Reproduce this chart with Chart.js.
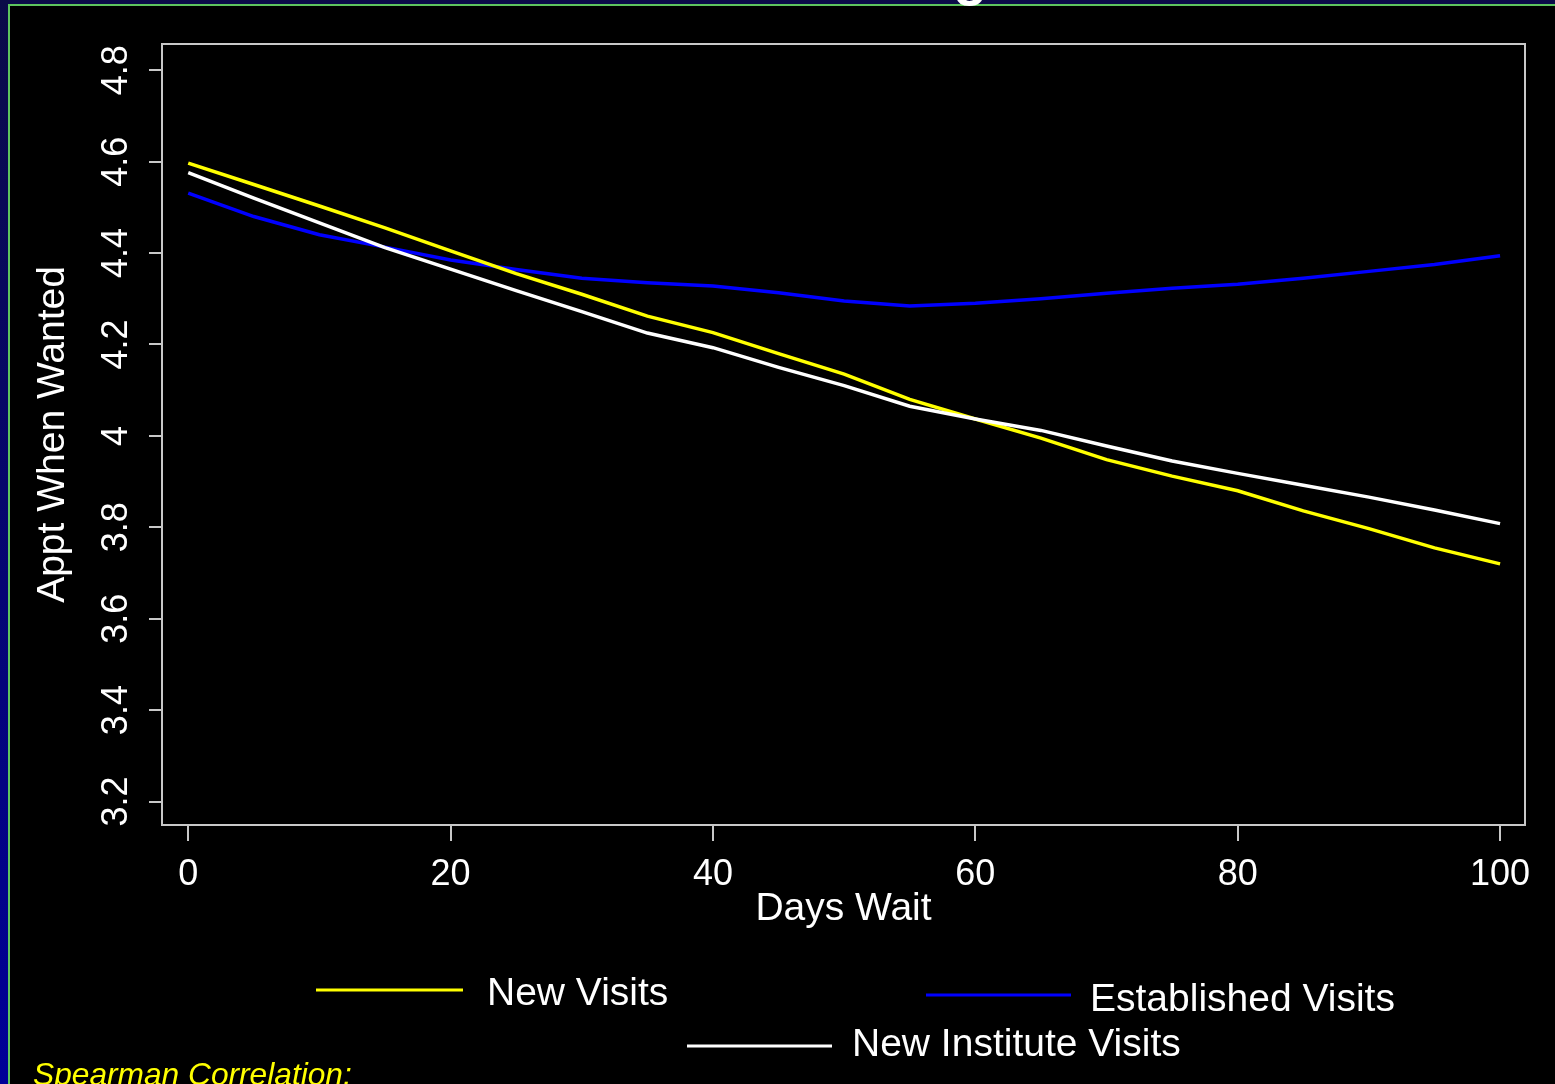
<!DOCTYPE html>
<html>
<head>
<meta charset="utf-8">
<title>Appt When Wanted vs Days Wait</title>
<script src="https://cdn.jsdelivr.net/npm/chart.js@4/dist/chart.umd.min.js"></script>
<style>
  html, body { margin: 0; padding: 0; }
  body {
    width: 1555px; height: 1084px; overflow: hidden; position: relative;
    background: linear-gradient(#0b0b48, #000098);
  }
  #panel {
    position: absolute; left: 8px; top: 4px; right: 0; bottom: 0;
    background: #000;
    border-top: 2px solid #5ec45e;
    border-left: 2px solid #5ec45e;
  }
  #chart { position: absolute; left: 0; top: 0; }
</style>
</head>
<body>
<div id="panel"></div>
<canvas id="chart" width="1555" height="1084"></canvas>
<script>
// Smoothed satisfaction scores by days of wait
const daysWait = [0, 5, 10, 15, 20, 25, 30, 35, 40, 45, 50, 55, 60, 65, 70, 75, 80, 85, 90, 95, 100];
const newVisits = [4.597, 4.55, 4.503, 4.455, 4.405, 4.355, 4.31, 4.262, 4.226, 4.18, 4.135, 4.08, 4.037, 3.995, 3.948, 3.912, 3.88, 3.836, 3.797, 3.755, 3.72];
const establishedVisits = [4.531, 4.48, 4.44, 4.413, 4.385, 4.364, 4.345, 4.335, 4.328, 4.313, 4.295, 4.284, 4.29, 4.3, 4.312, 4.323, 4.332, 4.345, 4.36, 4.375, 4.394];
const newInstituteVisits = [4.576, 4.52, 4.466, 4.412, 4.365, 4.318, 4.272, 4.225, 4.193, 4.15, 4.11, 4.065, 4.037, 4.012, 3.978, 3.945, 3.918, 3.892, 3.866, 3.838, 3.808];

const seriesNames = ['New Visits', 'Established Visits', 'New Institute Visits'];
const xTickValues = [0, 20, 40, 60, 80, 100];
const yTickValues = [3.2, 3.4, 3.6, 3.8, 4.0, 4.2, 4.4, 4.6, 4.8];
const yTickLabels = ['3.2', '3.4', '3.6', '3.8', '4', '4.2', '4.4', '4.6', '4.8'];
const xTitle = 'Days Wait';
const yTitle = 'Appt When Wanted';
const noteText = 'Spearman Correlation:';

const FONT = "'Liberation Sans', Arial, Helvetica, sans-serif";
const AXIS_COLOR = '#c8c8c8';
const TEXT_COLOR = '#ffffff';

const toPoints = ys => daysWait.map((d, i) => ({ x: d, y: ys[i] }));

// Legend layout: three entries placed around the lower band
const legendSlots = [
  { x0: 316, x1: 463, y: 990, tx: 487, ty: 994 },
  { x0: 926, x1: 1071, y: 995, tx: 1090, ty: 1000 },
  { x0: 687, x1: 832, y: 1046, tx: 852, ty: 1045 }
];

const extras = {
  id: 'plotExtras',
  afterDraw(chart) {
    const ctx = chart.ctx;
    const a = chart.chartArea;
    ctx.save();
    // plot box
    ctx.strokeStyle = AXIS_COLOR;
    ctx.lineWidth = 2;
    ctx.strokeRect(a.left, a.top, a.right - a.left, a.bottom - a.top);

    // legend
    chart.data.datasets.forEach((ds, i) => {
      const s = legendSlots[i];
      ctx.strokeStyle = ds.borderColor;
      ctx.lineWidth = 3;
      ctx.beginPath();
      ctx.moveTo(s.x0, s.y);
      ctx.lineTo(s.x1, s.y);
      ctx.stroke();
      ctx.fillStyle = TEXT_COLOR;
      ctx.font = '39px ' + FONT;
      ctx.textAlign = 'left';
      ctx.textBaseline = 'middle';
      ctx.fillText(ds.label, s.tx, s.ty);
    });

    // footnote
    ctx.fillStyle = '#ffff00';
    ctx.font = 'italic 31.7px ' + FONT;
    ctx.textAlign = 'left';
    ctx.textBaseline = 'alphabetic';
    ctx.fillText(noteText, 33, 1085);

    // slide heading, mostly above the top edge
    ctx.fillStyle = '#ffffff';
    ctx.font = 'bold 56px ' + FONT;
    ctx.fillText('g', 953, -6);
    ctx.restore();
  }
};

new Chart(document.getElementById('chart'), {
  type: 'line',
  data: {
    datasets: [
      { label: seriesNames[0], data: toPoints(newVisits), borderColor: '#ffff00', order: 1 },
      { label: seriesNames[1], data: toPoints(establishedVisits), borderColor: '#0000ff', order: 2 },
      { label: seriesNames[2], data: toPoints(newInstituteVisits), borderColor: '#ffffff', order: 0 }
    ]
  },
  options: {
    responsive: false,
    animation: false,
    events: [],
    elements: {
      line: { borderWidth: 3.5, tension: 0, fill: false, borderCapStyle: 'butt' },
      point: { radius: 0 }
    },
    layout: { padding: { left: 0, top: 44, right: 30, bottom: 149 } },
    plugins: { legend: { display: false }, tooltip: { enabled: false } },
    scales: {
      x: {
        type: 'linear',
        position: 'bottom',
        min: -2,
        max: 101.9,
        afterFit(scale) { scale.height = 110; },
        afterBuildTicks(scale) { scale.ticks = xTickValues.map(v => ({ value: v })); },
        grid: { drawOnChartArea: false, drawTicks: true, tickLength: 16, color: AXIS_COLOR, lineWidth: 2 },
        border: { display: false },
        ticks: {
          autoSkip: false, maxRotation: 0, minRotation: 0, padding: 12,
          color: TEXT_COLOR, font: { family: FONT, size: 36 },
          callback: v => String(v)
        },
        title: {
          display: true, text: xTitle, color: TEXT_COLOR,
          font: { family: FONT, size: 39 }, padding: { top: 0, bottom: 2 }
        }
      },
      y: {
        type: 'linear',
        position: 'left',
        min: 3.1486,
        max: 4.8575,
        afterFit(scale) { scale.width = 162; },
        afterBuildTicks(scale) { scale.ticks = yTickValues.map(v => ({ value: v })); },
        grid: { drawOnChartArea: false, drawTicks: true, tickLength: 13, color: AXIS_COLOR, lineWidth: 2 },
        border: { display: false },
        ticks: {
          autoSkip: false, minRotation: 90, maxRotation: 90, padding: 7, crossAlign: 'center',
          color: TEXT_COLOR, font: { family: FONT, size: 36 },
          callback: v => yTickLabels[yTickValues.findIndex(t => Math.abs(t - v) < 1e-6)]
        },
        title: {
          display: true, text: yTitle, color: TEXT_COLOR,
          font: { family: FONT, size: 39 }, padding: { top: 30, bottom: 0 }
        }
      }
    }
  },
  plugins: [extras]
});
</script>
</body>
</html>
